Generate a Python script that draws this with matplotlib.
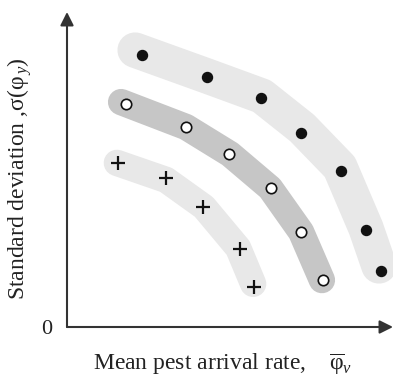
import matplotlib
matplotlib.use('Agg')
import matplotlib.pyplot as plt

plt.rcParams['font.family'] = ['Liberation Serif', 'DejaVu Serif']
plt.rcParams['mathtext.fontset'] = 'custom'
plt.rcParams['mathtext.rm'] = 'Liberation Serif'
plt.rcParams['mathtext.it'] = 'Liberation Serif:italic'

# points (arbitrary units, axes run 0..100)
filled_x = [23.1, 43.0, 59.6, 71.9, 84.1, 91.6, 96.3]
filled_y = [86.3, 79.5, 72.8, 61.5, 49.5, 30.7, 17.9]
open_x = [18.0, 36.6, 49.8, 62.5, 71.9, 78.4]
open_y = [70.8, 63.4, 54.9, 44.1, 30.3, 14.9]
plus_x = [15.7, 30.4, 41.8, 53.2, 57.3]
plus_y = [52.0, 47.2, 38.2, 24.8, 12.8]

# shaded bands behind each group (centre lines)
band_filled_x = [20.9, 42.9, 59.8, 72.1, 83.7, 91.7, 95.7]
band_filled_y = [87.9, 79.7, 73.3, 63.2, 50.8, 31.4, 19.4]
band_open_x = [16.6, 36.5, 50.0, 62.3, 71.8, 78.2]
band_open_y = [71.4, 63.5, 54.9, 44.1, 30.2, 14.9]
band_plus_x = [15.3, 30.4, 42.0, 52.5, 57.1]
band_plus_y = [52.1, 46.7, 38.1, 25.1, 13.7]

fig = plt.figure(figsize=(3.93, 3.78), dpi=100)
ax = fig.add_axes([67 / 393, 51 / 378, 326 / 393, 315 / 378])
ax.set_xlim(0, 100)
ax.set_ylim(0, 100)

band_kw = dict(solid_capstyle='round', solid_joinstyle='round', zorder=1)
ax.plot(band_filled_x, band_filled_y, color='#e8e8e8', lw=25.5, **band_kw)
ax.plot(band_open_x, band_open_y, color='#c6c6c6', lw=19, **band_kw)
ax.plot(band_plus_x, band_plus_y, color='#e8e8e8', lw=19, **band_kw)

ax.plot(filled_x, filled_y, 'o', color='#111111', ms=7.2, zorder=3)
ax.plot(open_x, open_y, 'o', mfc='white', mec='#111111', mew=1.2, ms=7.5, zorder=3)
ax.plot(plus_x, plus_y, '+', color='#111111', ms=10, mew=1.6, zorder=3)

for s in ax.spines.values():
    s.set_visible(False)
ax.set_xticks([])
ax.set_yticks([])

arrow = dict(arrowstyle='-|>,head_length=0.8,head_width=0.4', lw=1.5,
             color='#333333', shrinkA=0, shrinkB=0, mutation_scale=10)
ax.annotate('', xy=(0, 1), xytext=(0, 0), xycoords='axes fraction', arrowprops=arrow)
ax.annotate('', xy=(1, 0), xytext=(0, 0), xycoords='axes fraction', arrowprops=arrow)

fig.text(47 / 393, 1 - 330 / 378, '0', ha='center', va='center', fontsize=16, color='#222222')
fig.text(93 / 393, 1 - 370 / 378, r'Mean pest arrival rate,    $\overline{\mathrm{φ}}_{v}$',
         ha='left', va='baseline', fontsize=17, color='#222222')
fig.text(20 / 393, 1 - 179 / 378, r'Standard deviation ,σ(φ$_{\,y}$)',
         ha='center', va='center', rotation=90, fontsize=17, color='#222222')

fig.savefig('out.png', dpi=100)
